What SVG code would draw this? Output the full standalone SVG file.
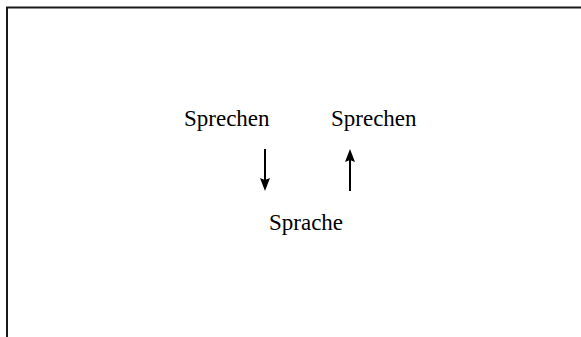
<svg xmlns="http://www.w3.org/2000/svg" width="581" height="337" viewBox="0 0 581 337">
<defs>
<style>
.t{font-family:"Liberation Serif","Times New Roman",serif;font-size:23px;fill:#000}
.c{stroke:#000;stroke-width:2;fill:none}
</style>
<marker id="ah" markerWidth="10" markerHeight="12" refX="5" refY="12" orient="auto-start-reverse" markerUnits="userSpaceOnUse" viewBox="0 0 10 12">
<path d="M0,0 L5,2 L10,0 L5,12 Z" fill="#000"/>
</marker>
</defs>
<rect width="581" height="337" fill="#fff"/>
<path d="M7,337 V7.5 H581" stroke="#1a1a1a" stroke-width="2" fill="none"/>
<g id="sprechen1"><text class="t" x="184" y="126">Sprechen</text></g>
<g id="sprechen2"><text class="t" x="331" y="126">Sprechen</text></g>
<g id="sprache"><text class="t" x="269" y="230">Sprache</text></g>
<g id="connectors">
<path class="c" d="M265,149 V183"/>
<path d="M260,178 L265,180 L270,178 L265,191 Z" fill="#000"/>
<path class="c" d="M350,191 V157"/>
<path d="M345,162 L350,160 L355,162 L350,149 Z" fill="#000"/>
</g>
</svg>
